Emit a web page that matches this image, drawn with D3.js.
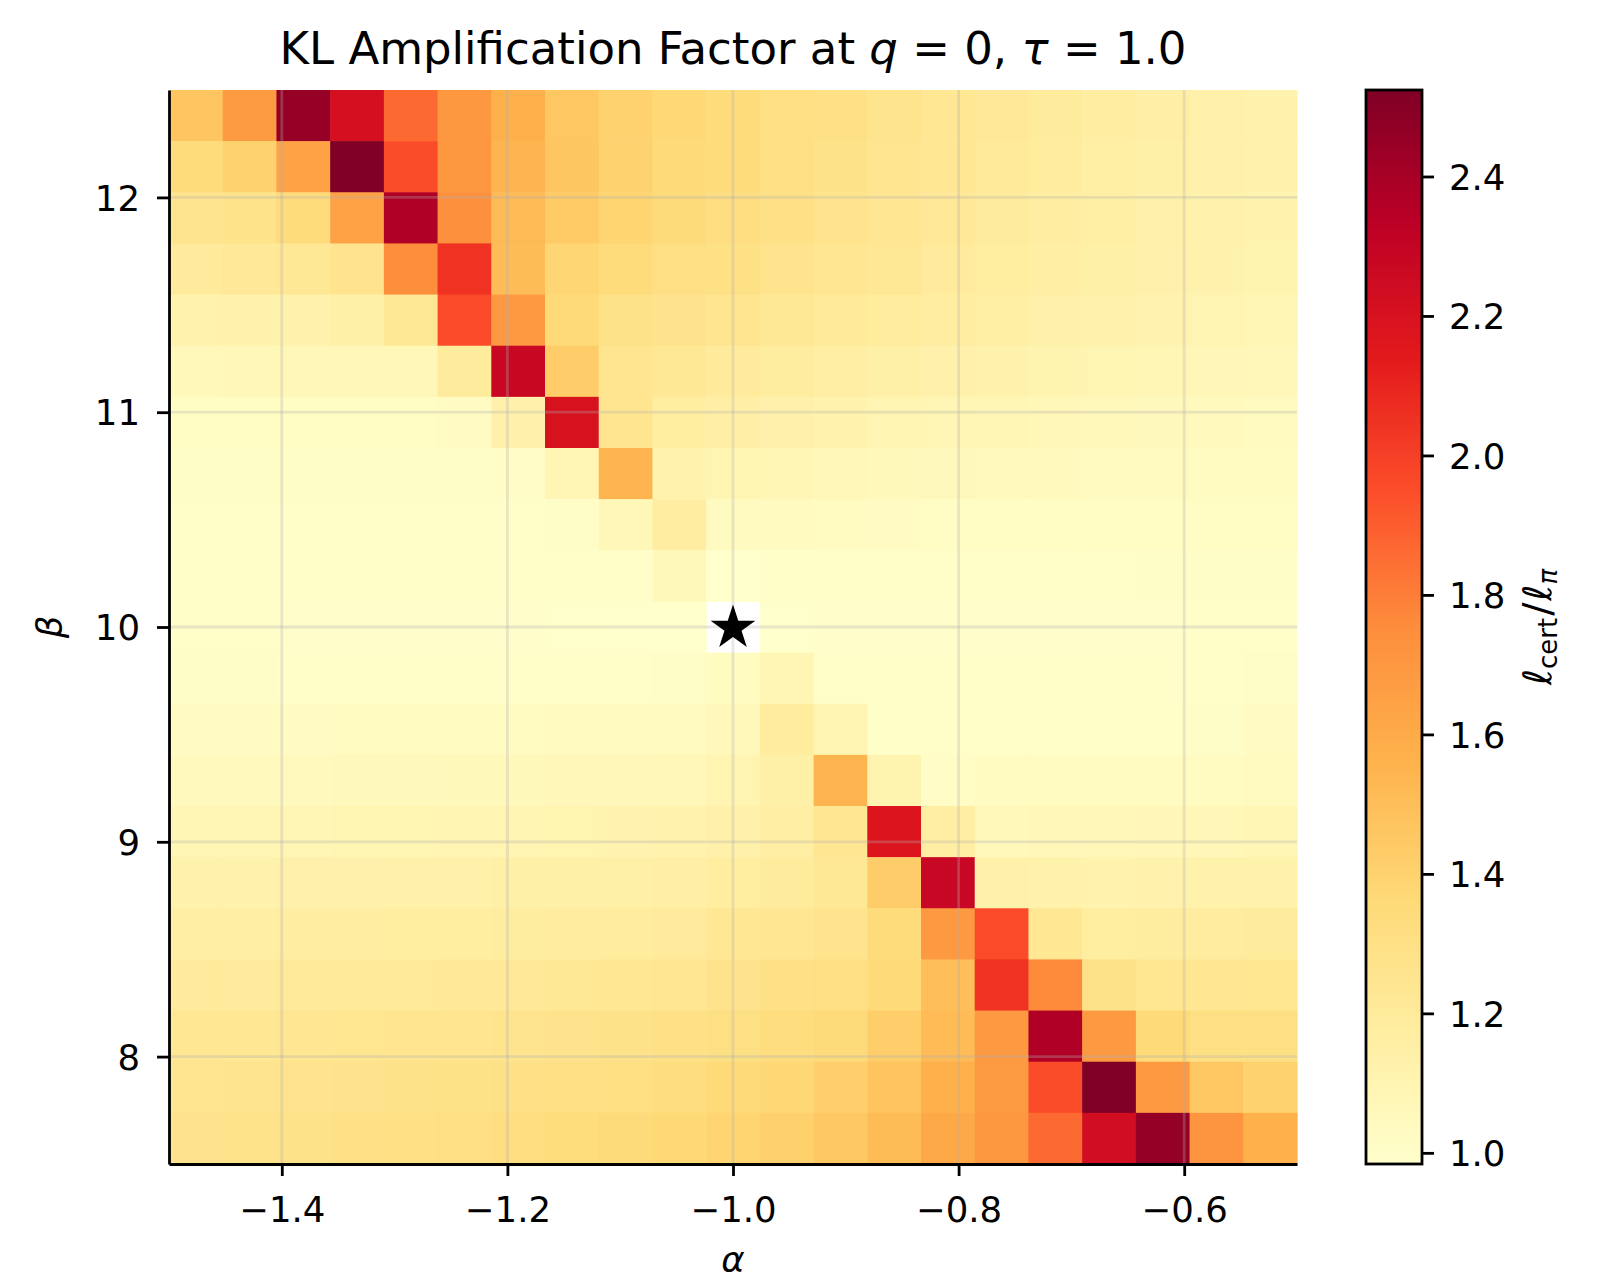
<html>
<head>
<meta charset="utf-8" />
<script src="https://cdnjs.cloudflare.com/ajax/libs/d3/7.8.5/d3.min.js"></script>
<style>
	body { margin: 0; background: #fff; }
	text { font-family: "DejaVu Sans", sans-serif; fill: #000; }
</style>
</head>
<body>
<svg id="chart" width="1597" height="1279"></svg>
<script type="text/javascript">

// grid cell centres (alpha columns, beta rows from top to bottom)
var alphas = [-1.476, -1.429, -1.381, -1.333, -1.286, -1.238, -1.190, -1.143, -1.095, -1.048, -1.000,
	-0.952, -0.905, -0.857, -0.810, -0.762, -0.714, -0.667, -0.619, -0.571, -0.524];
var betas = [12.381, 12.143, 11.905, 11.667, 11.429, 11.190, 10.952, 10.714, 10.476, 10.238, 10.000,
	9.762, 9.524, 9.286, 9.048, 8.810, 8.571, 8.333, 8.095, 7.857, 7.619];

// l_cert / l_pi, one row per beta (null = masked cell)
var values = [
	[1.47, 1.68, 2.45, 2.22, 1.86, 1.70, 1.57, 1.46, 1.40, 1.37, 1.345, 1.31, 1.29, 1.26, 1.236, 1.22, 1.195, 1.168, 1.15, 1.137, 1.124],
	[1.34, 1.40, 1.645, 2.524, 1.955, 1.70, 1.55, 1.465, 1.40, 1.36, 1.34, 1.305, 1.28, 1.25, 1.23, 1.21, 1.19, 1.16, 1.145, 1.13, 1.12],
	[1.26, 1.275, 1.345, 1.645, 2.373, 1.737, 1.52, 1.44, 1.39, 1.35, 1.32, 1.29, 1.265, 1.24, 1.22, 1.195, 1.17, 1.155, 1.137, 1.124, 1.115],
	[1.20, 1.22, 1.225, 1.265, 1.75, 2.05, 1.51, 1.385, 1.34, 1.31, 1.30, 1.265, 1.24, 1.225, 1.20, 1.177, 1.165, 1.145, 1.13, 1.12, 1.107],
	[1.115, 1.128, 1.124, 1.14, 1.225, 1.96, 1.69, 1.36, 1.28, 1.27, 1.25, 1.225, 1.21, 1.19, 1.168, 1.155, 1.137, 1.124, 1.11, 1.10, 1.09],
	[1.063, 1.07, 1.07, 1.07, 1.07, 1.195, 2.276, 1.43, 1.25, 1.225, 1.20, 1.18, 1.165, 1.145, 1.13, 1.12, 1.107, 1.095, 1.085, 1.075, 1.065],
	[1.02, 1.02, 1.02, 1.02, 1.02, 1.025, 1.13, 2.20, 1.25, 1.177, 1.15, 1.13, 1.115, 1.10, 1.09, 1.08, 1.07, 1.063, 1.055, 1.046, 1.04],
	[1.01, 1.01, 1.01, 1.01, 1.01, 1.01, 1.015, 1.08, 1.55, 1.115, 1.095, 1.08, 1.07, 1.06, 1.055, 1.05, 1.045, 1.04, 1.035, 1.03, 1.03],
	[1.0, 1.0, 1.0, 1.0, 1.0, 1.0, 1.0, 1.005, 1.07, 1.168, 1.04, 1.035, 1.03, 1.025, 1.02, 1.02, 1.02, 1.02, 1.02, 1.02, 1.02],
	[0.995, 0.995, 0.995, 0.995, 0.995, 0.995, 0.995, 0.995, 0.995, 1.06, 0.985, 1.0, 1.0, 1.0, 1.0, 1.0, 1.0, 1.0, 1.005, 1.005, 1.005],
	[1.0, 0.995, 0.99, 0.99, 0.99, 0.99, 0.99, 0.988, 0.986, 0.985, null, 0.984, 0.99, 0.99, 0.99, 0.99, 0.99, 0.99, 0.99, 0.995, 0.995],
	[1.005, 1.005, 1.0, 1.0, 1.0, 1.0, 1.0, 1.0, 1.0, 1.005, 1.03, 1.08, 1.0, 0.995, 0.995, 0.995, 0.995, 0.995, 0.995, 1.0, 1.01],
	[1.025, 1.025, 1.025, 1.03, 1.03, 1.03, 1.03, 1.035, 1.035, 1.04, 1.063, 1.19, 1.10, 1.0, 1.0, 1.0, 1.0, 1.0, 1.0, 1.005, 1.025],
	[1.05, 1.05, 1.05, 1.055, 1.055, 1.06, 1.06, 1.065, 1.065, 1.07, 1.10, 1.14, 1.55, 1.107, 1.015, 1.03, 1.03, 1.03, 1.03, 1.03, 1.035],
	[1.09, 1.09, 1.09, 1.095, 1.095, 1.10, 1.10, 1.105, 1.11, 1.115, 1.137, 1.165, 1.24, 2.18, 1.163, 1.063, 1.07, 1.07, 1.075, 1.075, 1.08],
	[1.125, 1.125, 1.13, 1.13, 1.135, 1.135, 1.14, 1.14, 1.145, 1.15, 1.177, 1.195, 1.225, 1.43, 2.28, 1.137, 1.128, 1.115, 1.12, 1.128, 1.128],
	[1.165, 1.165, 1.17, 1.17, 1.175, 1.175, 1.18, 1.185, 1.19, 1.20, 1.23, 1.24, 1.265, 1.345, 1.69, 1.96, 1.236, 1.177, 1.18, 1.185, 1.195],
	[1.20, 1.20, 1.205, 1.21, 1.21, 1.215, 1.22, 1.225, 1.23, 1.24, 1.27, 1.295, 1.31, 1.36, 1.50, 2.05, 1.76, 1.28, 1.245, 1.24, 1.245],
	[1.23, 1.235, 1.24, 1.245, 1.25, 1.255, 1.26, 1.27, 1.28, 1.29, 1.305, 1.33, 1.35, 1.425, 1.515, 1.69, 2.373, 1.69, 1.36, 1.305, 1.305],
	[1.255, 1.26, 1.265, 1.27, 1.28, 1.285, 1.295, 1.305, 1.315, 1.33, 1.36, 1.375, 1.42, 1.475, 1.57, 1.68, 1.955, 2.524, 1.69, 1.46, 1.40],
	[1.27, 1.275, 1.28, 1.29, 1.30, 1.31, 1.32, 1.335, 1.35, 1.37, 1.39, 1.41, 1.45, 1.51, 1.61, 1.70, 1.86, 2.23, 2.46, 1.71, 1.57]
];

var xTicks = [-1.4, -1.2, -1.0, -0.8, -0.6];
var yTicks = [8, 9, 10, 11, 12];
var cbarTicks = [1.0, 1.2, 1.4, 1.6, 1.8, 2.0, 2.2, 2.4];
var starPoint = { alpha: -1.0, beta: 10 };

// matplotlib YlOrRd anchors
var ylorrd = ["#ffffcc", "#ffeda0", "#fed976", "#feb24c", "#fd8d3c", "#fc4e2a", "#e31a1c", "#bd0026", "#800026"];

var fs = 35.5;
var pL = 169, pR = 1297, pT = 90, pB = 1164;
var cbL = 1366, cbR = 1422;

var svg = d3.select("#chart");
svg.append("rect").attr("width", 1597).attr("height", 1279).attr("fill", "#fff");

var x = d3.scaleLinear().domain([-1.5, -0.5]).range([pL, pR]);
var y = d3.scaleLinear().domain([7.5, 12.5]).range([pB, pT]);
var xBand = d3.scaleBand().domain(alphas).range([pL, pR]);
var yBand = d3.scaleBand().domain(betas).range([pT, pB]);

var cells = [];
values.forEach(function(row, i){
	row.forEach(function(v, j){
		cells.push({ a: alphas[j], b: betas[i], v: v });
	});
});

var ext = d3.extent(cells.filter(function(d){ return d.v !== null; }), function(d){ return d.v; });
var color = d3.scaleLinear()
	.domain(ylorrd.map(function(c, i){ return ext[0] + i / (ylorrd.length - 1) * (ext[1] - ext[0]); }))
	.range(ylorrd)
	.interpolate(d3.interpolateRgb);

// heatmap
svg.append("g")
	.selectAll("rect")
	.data(cells.filter(function(d){ return d.v !== null; }))
	.enter()
	.append("rect")
	.attr("x", function(d){ return xBand(d.a); })
	.attr("y", function(d){ return yBand(d.b); })
	.attr("width", xBand.bandwidth() + 0.6)
	.attr("height", yBand.bandwidth() + 0.6)
	.attr("fill", function(d){ return color(d.v); });

// grid
var grid = svg.append("g")
	.attr("stroke", "#b0b0b0")
	.attr("stroke-opacity", 0.3)
	.attr("stroke-width", 2.8);
grid.selectAll(".gx").data(xTicks).enter().append("line")
	.attr("x1", function(d){ return x(d); }).attr("x2", function(d){ return x(d); })
	.attr("y1", pT).attr("y2", pB);
grid.selectAll(".gy").data(yTicks).enter().append("line")
	.attr("y1", function(d){ return y(d); }).attr("y2", function(d){ return y(d); })
	.attr("x1", pL).attr("x2", pR);

// star at the reference point
svg.append("path")
	.attr("d", d3.symbol().type(d3.symbolStar).size(620)())
	.attr("transform", "translate(" + x(starPoint.alpha) + "," + (y(starPoint.beta) + 1) + ")")
	.attr("fill", "#000");

function styleAxis(g){
	g.selectAll("path.domain").attr("stroke-width", 2.8).attr("stroke", "#000");
	g.selectAll(".tick line").attr("stroke-width", 2.8).attr("stroke", "#000");
	g.selectAll(".tick text").attr("font-size", fs).attr("font-family", "DejaVu Sans");
}

var gx = svg.append("g")
	.attr("transform", "translate(0," + pB + ")")
	.call(d3.axisBottom(x).tickValues(xTicks).tickSize(12).tickSizeOuter(0).tickPadding(21).tickFormat(d3.format(".1f")));
styleAxis(gx);

var gy = svg.append("g")
	.attr("transform", "translate(" + pL + ",0)")
	.call(d3.axisLeft(y).tickValues(yTicks).tickSize(12).tickSizeOuter(0).tickPadding(17).tickFormat(d3.format("d")));
styleAxis(gy);
gy.selectAll(".tick text").attr("dy", "0.36em");

// labels
svg.append("text")
	.attr("x", (pL + pR) / 2).attr("y", 1272)
	.attr("text-anchor", "middle").attr("font-size", fs).attr("font-style", "italic")
	.text("α");

svg.append("text")
	.attr("transform", "translate(62," + ((pT + pB) / 2) + ") rotate(-90)")
	.attr("text-anchor", "middle").attr("font-size", fs).attr("font-style", "italic")
	.text("β");

var title = svg.append("text")
	.attr("x", (pL + pR) / 2).attr("y", 64)
	.attr("text-anchor", "middle").attr("font-size", 45);
title.append("tspan").text("KL Amplification Factor at ");
title.append("tspan").attr("font-style", "italic").text("q");
title.append("tspan").text(" = 0, ");
title.append("tspan").attr("font-style", "italic").text("τ");
title.append("tspan").text(" = 1.0");

// colorbar
var cScale = d3.scaleLinear().domain(ext).range([pB, pT]);
var grad = svg.append("defs").append("linearGradient")
	.attr("id", "cbgrad").attr("x1", 0).attr("y1", 1).attr("x2", 0).attr("y2", 0);
grad.selectAll("stop").data(ylorrd).enter().append("stop")
	.attr("offset", function(d, i){ return i / (ylorrd.length - 1); })
	.attr("stop-color", function(d){ return d; });

svg.append("rect")
	.attr("x", cbL).attr("y", pT)
	.attr("width", cbR - cbL).attr("height", pB - pT)
	.attr("fill", "url(#cbgrad)")
	.attr("stroke", "#000").attr("stroke-width", 2.8);

var gc = svg.append("g")
	.attr("transform", "translate(" + cbR + ",0)")
	.call(d3.axisRight(cScale).tickValues(cbarTicks).tickSize(12).tickSizeOuter(0).tickPadding(15).tickFormat(d3.format(".1f")));
styleAxis(gc);
gc.select("path.domain").remove();
gc.selectAll(".tick text").attr("dy", "0.36em");

var cl = svg.append("text")
	.attr("transform", "translate(1551," + ((pT + pB) / 2) + ") rotate(-90)")
	.attr("text-anchor", "middle").attr("font-size", 39);
cl.append("tspan").attr("font-style", "italic").text("ℓ");
cl.append("tspan").attr("font-size", 26).attr("dy", 6).text("cert");
cl.append("tspan").attr("dy", -6).attr("dx", 2).text("/");
cl.append("tspan").attr("font-style", "italic").attr("dx", 2).text("ℓ");
cl.append("tspan").attr("font-style", "italic").attr("font-size", 26).attr("dy", 6).text("π");

</script>
</body>
</html>
